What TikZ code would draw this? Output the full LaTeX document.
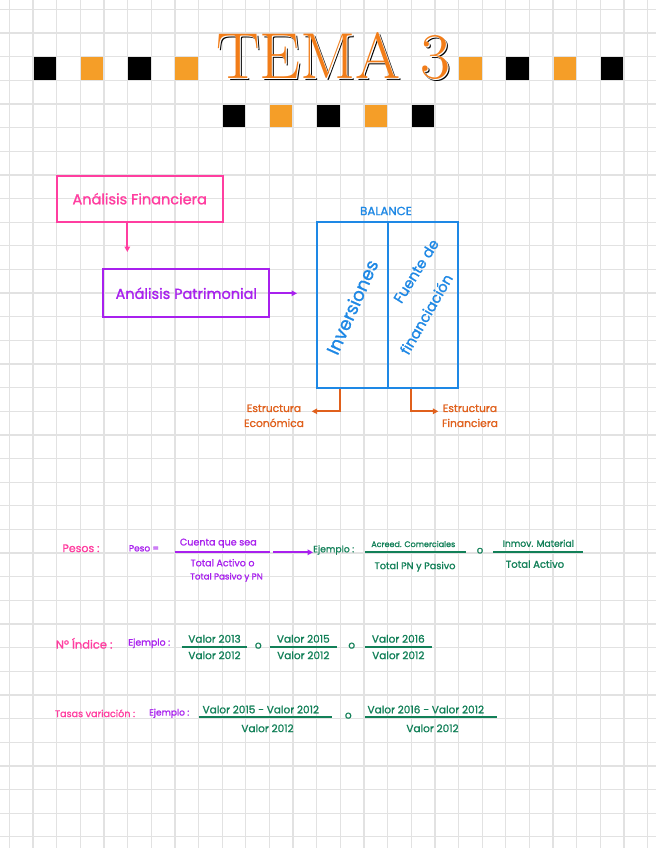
\documentclass[tikz,border=0pt]{standalone}
\usepackage{fontspec}
\newfontfamily\hand{Poppins}[FakeBold=1.2]
\usetikzlibrary{arrows.meta}
\definecolor{gridc}{RGB}{226,226,226}
\definecolor{sqorange}{RGB}{245,158,40}
\definecolor{torange}{RGB}{242,125,25}
\definecolor{cpink}{RGB}{255,62,160}
\definecolor{cpurple}{RGB}{168,32,238}
\definecolor{cblue}{RGB}{30,136,229}
\definecolor{corange}{RGB}{224,96,28}
\definecolor{cgreen}{RGB}{18,128,88}
\newcommand\hfs[1]{\hand\fontsize{#1}{#1}\selectfont}
\begin{document}
\begin{tikzpicture}[x=1pt,y=-1pt,
  gridline/.style={draw=gridc,line width=1.3pt},
  box/.style={draw=#1,line width=2pt,text=#1,inner sep=0pt,font=\hfs{14.5}},
  lbl/.style={inner sep=0pt,text=#1},
  sm/.style={font=\hfs{10.5}},
  ttl/.style={inner sep=0pt,font=\fontsize{65}{65}\selectfont,text=#1},
  conn/.style={draw=#1,line width=2pt,-{Triangle[length=5.5pt,width=5.5pt]}},
  fbar/.style={draw=#1,line width=1.7pt},
]
\useasboundingbox[fill=white] (0,0) rectangle (656,848);
% grid
\foreach \k in {0,...,27} {\draw[gridline] ({9.4+\k*23.64},0) -- ({9.4+\k*23.64},848);}
\foreach \k in {0,...,35} {\draw[gridline] (0,{9.4+\k*23.64}) -- (656,{9.4+\k*23.64});}
% squares
\foreach \c/\r/\col in {1/2/black,3/2/sqorange,5/2/black,7/2/sqorange,19/2/sqorange,21/2/black,23/2/sqorange,25/2/black,9/4/black,11/4/sqorange,13/4/black,15/4/sqorange,17/4/black}
  {\fill[\col] ({9.4+\c*23.64+0.6},{9.4+\r*23.64+0.6}) rectangle ++(22.4,22.4);}
% title
\node[ttl=black] (titleb) at (335.2,58.2) {TEMA 3};
\node[ttl=white] (titlew) at (334.2,57.2) {TEMA 3};
\node[ttl=torange] (title) at (333.4,56.4) {TEMA 3};
% top flow
\node[box=cpink,minimum width=166pt,minimum height=46pt] (af) at (139.7,198.7) {Análisis Financiera};
\coordinate (a1) at (127.3,252);
\draw[conn=cpink] (a1 |- af.south) -- (a1);
\node[box=cpurple,minimum width=166pt,minimum height=48pt] (ap) at (186.3,293.3) {Análisis Patrimonial};
\coordinate (a2) at (297,293.3);
\draw[conn=cpurple] (ap.east) -- (a2);
% balance
\node[draw=cblue,line width=2pt,minimum width=141.6pt,minimum height=165.3pt,inner sep=0pt] (bal) at (387.5,304.9) {};
\draw[draw=cblue,line width=2pt] (bal.north) -- (bal.south);
\node[lbl=cblue,font=\hfs{11.8}] (baltitle) at (386,211) {BALANCE};
\node[lbl=cblue,font=\hfs{18},rotate=66] (inv) at (352,307) {Inversiones};
\node[lbl=cblue,font=\hfs{14.5},rotate=58] (fue) at (416,271) {Fuente de};
\node[lbl=cblue,font=\hfs{14.5},rotate=60] (fin) at (426,314) {financiación};
% structure arrows
\coordinate (e1) at (340.4,411.3);
\coordinate (e2) at (311.7,411.3);
\draw[conn=corange] (e1 |- bal.south) -- (e1) -- (e2);
\coordinate (f1) at (411.3,411.3);
\coordinate (f2) at (438.3,411.3);
\draw[conn=corange] (f1 |- bal.south) -- (f1) -- (f2);
\node[lbl=corange,font=\hand\fontsize{10.7}{15}\selectfont,align=center] (ee) at (274,415.8) {Estructura\\Económica};
\node[lbl=corange,font=\hand\fontsize{10.7}{15}\selectfont,align=center] (ef) at (470,415.8) {Estructura\\Financiera};
% row 1
\node[lbl=cpink,font=\hfs{11}] (pesos) at (81,548.3) {Pesos :};
\node[lbl=cpurple,font=\hfs{9}] (pesoeq) at (144,548.3) {Peso =};
\draw[fbar=cpurple] (175,552.3) -- (270,552.3);
\node[lbl=cpurple,font=\hfs{9.6}] (n1) at (218.3,543.3) {Cuenta que sea};
\node[lbl=cpurple,font=\hfs{9.5}] (d1a) at (222.5,562.7) {Total Activo o};
\node[lbl=cpurple,font=\hfs{8.7}] (d1b) at (226.5,577.3) {Total Pasivo y PN};
\coordinate (r1a) at (273.3,552.3);
\node[lbl=cgreen,font=\hfs{9.2},anchor=west] (ej1) at (313,550) {Ejemplo :};
\draw[conn=cpurple] (r1a) -- (ej1.west |- r1a);
\draw[fbar=cgreen] (365,552.3) -- (466,552.3);
\node[lbl=cgreen,font=\hfs{8}] (n2) at (413.3,544) {Acreed. Comerciales};
\node[lbl=cgreen,font=\hfs{9.7}] (d2) at (415,566.7) {Total PN y Pasivo};
\node[lbl=cgreen,font=\hfs{10}] (o1) at (480,550.7) {o};
\draw[fbar=cgreen] (493.3,552.3) -- (582.7,552.3);
\node[lbl=cgreen,font=\hfs{9.2}] (n3) at (538.3,543.3) {Inmov. Material};
\node[lbl=cgreen,font=\hfs{10}] (d3) at (535,564) {Total Activo};
% row 2
\node[lbl=cpink,font=\hfs{11.5}] (ind) at (84.2,643.3) {Nº Índice :};
\node[lbl=cpurple,font=\hfs{9.4}] (ej2) at (149.2,643.3) {Ejemplo :};
\draw[fbar=cgreen] (181.7,646.7) -- (247.3,646.7);
\draw[fbar=cgreen] (270,646.7) -- (336.7,646.7);
\draw[fbar=cgreen] (365,646.7) -- (431.7,646.7);
\node[lbl=cgreen,sm] (n4) at (214.5,638.8) {Valor 2013};
\node[lbl=cgreen,sm] (d4) at (214.5,655.3) {Valor 2012};
\node[lbl=cgreen,sm] (o2) at (258.3,645.7) {o};
\node[lbl=cgreen,sm] (n5) at (303.3,638.8) {Valor 2015};
\node[lbl=cgreen,sm] (d5) at (303.3,655.3) {Valor 2012};
\node[lbl=cgreen,sm] (o3) at (351.7,645.7) {o};
\node[lbl=cgreen,sm] (n6) at (398.3,638.8) {Valor 2016};
\node[lbl=cgreen,sm] (d6) at (398.3,655.3) {Valor 2012};
% row 3
\node[lbl=cpink,font=\hfs{9.6}] (tas) at (95,713.3) {Tasas variación :};
\node[lbl=cpurple,font=\hfs{9}] (ej3) at (169.2,713.3) {Ejemplo :};
\draw[fbar=cgreen] (199.3,717.3) -- (331.7,717.3);
\draw[fbar=cgreen] (365,717.3) -- (496.7,717.3);
\node[lbl=cgreen,sm] (n7) at (260.8,709.5) {Valor 2015 − Valor 2012};
\node[lbl=cgreen,sm] (d7) at (267.5,728.3) {Valor 2012};
\node[lbl=cgreen,sm] (o4) at (348.3,715.7) {o};
\node[lbl=cgreen,sm] (n8) at (425.8,709.5) {Valor 2016 − Valor 2012};
\node[lbl=cgreen,sm] (d8) at (432.5,728.3) {Valor 2012};
\end{tikzpicture}
\end{document}
